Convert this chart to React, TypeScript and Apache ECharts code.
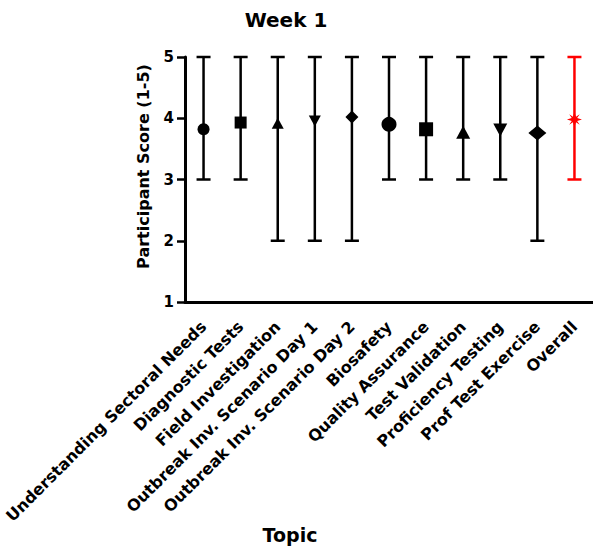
import React, { useEffect, useRef } from "react";
import * as echarts from "echarts";

const topics = [
  "Understanding Sectoral Needs",
  "Diagnostic Tests",
  "Field Investigation",
  "Outbreak Inv. Scenario Day 1",
  "Outbreak Inv. Scenario Day 2",
  "Biosafety",
  "Quality Assurance",
  "Test Validation",
  "Proficiency Testing",
  "Prof Test Exercise",
  "Overall",
];
const means = [3.82, 3.93, 3.92, 3.955, 4.02, 3.9, 3.82, 3.77, 3.81, 3.76, 3.98];
const lows = [3, 3, 2, 2, 2, 3, 3, 3, 3, 2, 3];
const highs = [5, 5, 5, 5, 5, 5, 5, 5, 5, 5, 5];
const yTicks = [1, 2, 3, 4, 5];

const STAR =
  "path://M5,0 L6,3.2 L8.5,1.5 L6.8,4 L10,5 L6.8,6 L8.5,8.5 L6,6.8 L5,10 L4,6.8 L1.5,8.5 L3.2,6 L0,5 L3.2,4 L1.5,1.5 L4,3.2 Z";
const markerSymbols = [
  "circle", "rect", "triangle", "triangle", "diamond",
  "circle", "rect", "triangle", "triangle", "diamond", STAR,
];
const markerRotate = [0, 0, 0, 180, 0, 0, 0, 0, 180, 0, 0];
const markerSizes: any[] = [
  12, 12, [12, 11], [12, 11], [13, 13],
  15, 14, [14, 13], [14, 13], [18, 15], 15,
];
const colors = [
  "#000", "#000", "#000", "#000", "#000", "#000",
  "#000", "#000", "#000", "#000", "#ff0000",
];

const FONT = "DejaVu Sans";

export default function App() {
  const ref = useRef<HTMLDivElement>(null);
  useEffect(() => {
    if (!ref.current) return;
    const chart = echarts.init(ref.current, undefined, { renderer: "svg" });
    chart.setOption({
      animation: false,
      backgroundColor: "#fff",
      grid: { left: 185, top: 57, bottom: 248, right: -6, containLabel: false },
      xAxis: {
        type: "category",
        data: topics,
        boundaryGap: true,
        axisLine: { lineStyle: { color: "#000", width: 3 } },
        axisTick: { alignWithLabel: true, length: 8, lineStyle: { color: "#000", width: 2.5 } },
        axisLabel: {
          interval: 0,
          rotate: 45,
          margin: 22,
          color: "#000",
          fontFamily: FONT,
          fontWeight: "bold",
          fontSize: 16,
        },
        splitLine: { show: false },
      },
      yAxis: {
        type: "value",
        min: yTicks[0],
        max: yTicks[yTicks.length - 1],
        interval: 1,
        axisLine: { show: true, lineStyle: { color: "#000", width: 3 } },
        axisTick: { show: true, length: 8, lineStyle: { color: "#000", width: 2.5 } },
        axisLabel: {
          margin: 11,
          color: "#000",
          fontFamily: FONT,
          fontWeight: "bold",
          fontSize: 15,
        },
        splitLine: { show: false },
      },
      graphic: [
        {
          type: "text",
          x: 286,
          y: 20,
          style: {
            text: "Week 1",
            fill: "#000",
            font: `bold 20px "${FONT}"`,
            textAlign: "center",
            textVerticalAlign: "middle",
          },
        },
        {
          type: "text",
          x: 143.5,
          y: 166.5,
          rotation: Math.PI / 2,
          style: {
            text: "Participant Score (1-5)",
            fill: "#000",
            font: `bold 16px "${FONT}"`,
            textAlign: "center",
            textVerticalAlign: "middle",
          },
        },
        {
          type: "text",
          x: 290,
          y: 535,
          style: {
            text: "Topic",
            fill: "#000",
            font: `bold 19px "${FONT}"`,
            textAlign: "center",
            textVerticalAlign: "middle",
          },
        },
      ],
      series: [
        {
          type: "custom",
          name: "range",
          data: topics.map((_, i) => [i, lows[i], highs[i]]),
          renderItem: (params: any, api: any) => {
            const i = params.dataIndex;
            const x = api.value(0);
            const pLo = api.coord([x, api.value(1)]);
            const pHi = api.coord([x, api.value(2)]);
            const hw = 7;
            const style = { stroke: colors[i], lineWidth: 2.5, fill: "none" };
            return {
              type: "group",
              children: [
                { type: "line", shape: { x1: pLo[0], y1: pLo[1], x2: pHi[0], y2: pHi[1] }, style },
                { type: "line", shape: { x1: pLo[0] - hw, y1: pLo[1], x2: pLo[0] + hw, y2: pLo[1] }, style },
                { type: "line", shape: { x1: pHi[0] - hw, y1: pHi[1], x2: pHi[0] + hw, y2: pHi[1] }, style },
              ],
            };
          },
          z: 2,
        },
        {
          type: "scatter",
          name: "mean",
          z: 3,
          data: topics.map((_, i) => ({
            value: [i, means[i]],
            symbol: markerSymbols[i],
            symbolSize: markerSizes[i],
            symbolRotate: markerRotate[i],
            itemStyle: { color: colors[i], opacity: 1 },
          })),
        },
      ],
    });
    return () => chart.dispose();
  }, []);
  return (
    <div
      ref={ref}
      style={{ position: "absolute", left: 0, top: 0, width: 593, height: 550 }}
    />
  );
}
